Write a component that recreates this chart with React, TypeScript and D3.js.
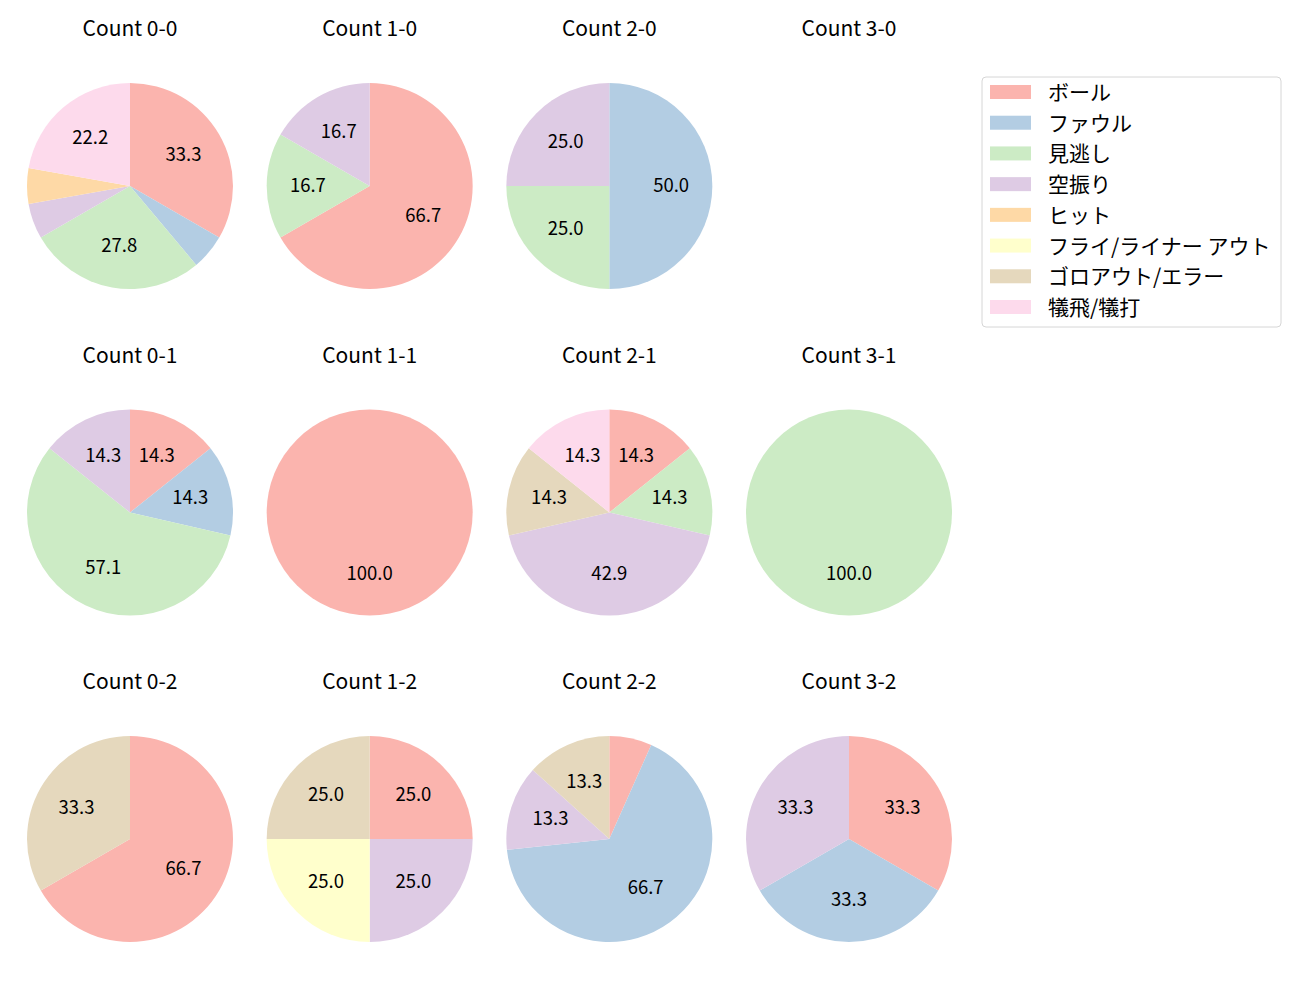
import React from "react";
import * as d3 from "d3";

const categories = ["ボール", "ファウル", "見逃し", "空振り", "ヒット", "フライ/ライナー アウト", "ゴロアウト/エラー", "犠飛/犠打"];
const colors = ["#fbb4ae", "#b3cde3", "#ccebc5", "#decbe4", "#fed9a6", "#ffffcc", "#e5d8bd", "#fddaec"];

const countTitles = [
  ["Count 0-0", "Count 1-0", "Count 2-0", "Count 3-0"],
  ["Count 0-1", "Count 1-1", "Count 2-1", "Count 3-1"],
  ["Count 0-2", "Count 1-2", "Count 2-2", "Count 3-2"],
];

const c00 = [6, 1, 5, 1, 1, 0, 0, 4];
const c10 = [4, 0, 1, 1, 0, 0, 0, 0];
const c20 = [0, 2, 1, 1, 0, 0, 0, 0];
const c30 = [0, 0, 0, 0, 0, 0, 0, 0];
const c01 = [1, 1, 4, 1, 0, 0, 0, 0];
const c11 = [1, 0, 0, 0, 0, 0, 0, 0];
const c21 = [1, 0, 1, 3, 0, 0, 1, 1];
const c31 = [0, 0, 1, 0, 0, 0, 0, 0];
const c02 = [2, 0, 0, 0, 0, 0, 1, 0];
const c12 = [1, 0, 0, 1, 0, 1, 1, 0];
const c22 = [1, 10, 0, 2, 0, 0, 2, 0];
const c32 = [1, 1, 0, 1, 0, 0, 0, 0];

const grid = [
  [c00, c10, c20, c30],
  [c01, c11, c21, c31],
  [c02, c12, c22, c32],
];

const FONT = "'Noto Sans CJK JP', 'Noto Sans', sans-serif";

const colX = d3.scaleLinear().domain([0, 3]).range([130, 849]);
const rowY = d3.scaleLinear().domain([0, 2]).range([186, 839]);
const R = 103;

function Pie({ values, cx, cy, title }: { values: number[]; cx: number; cy: number; title: string }) {
  const total = d3.sum(values);
  const items = values.map((v, i) => ({ v, i })).filter((d) => d.v > 0);
  const pie = d3.pie<{ v: number; i: number }>().value((d) => d.v).sort(null);
  const arcs = total > 0 ? pie(items) : [];
  const arc = d3.arc<d3.PieArcDatum<{ v: number; i: number }>>().innerRadius(0).outerRadius(R);
  const labelArc = d3.arc<d3.PieArcDatum<{ v: number; i: number }>>().innerRadius(R * 0.6).outerRadius(R * 0.6);
  return (
    <g>
      <text x={cx} y={cy - 159} textAnchor="middle" dominantBaseline="central" fontFamily={FONT} fontSize={21} fill="#000">
        {title}
      </text>
      <g transform={`translate(${cx},${cy})`}>
        {arcs.map((a) => (
          <path key={a.data.i} d={arc(a) || ""} fill={colors[a.data.i]} />
        ))}
        {arcs.map((a) => {
          const pct = (a.data.v / total) * 100;
          if (pct < 10) return null;
          const [lx, ly] = labelArc.centroid(a);
          return (
            <text key={"t" + a.data.i} x={lx} y={ly - 2.5} textAnchor="middle" dominantBaseline="central" fontFamily={FONT} fontSize={18.5} fill="#000">
              {pct.toFixed(1)}
            </text>
          );
        })}
      </g>
    </g>
  );
}

export default function App() {
  const legendX = 982;
  const legendY = 77;
  const rowStep = d3.scaleLinear().domain([0, 7]).range([92, 307]);
  return (
    <svg width={1300} height={1000} style={{ display: "block", position: "absolute", left: 0, top: 0 }}>
      <rect width={1300} height={1000} fill="#fff" />
      {grid.map((row, r) =>
        row.map((vals, c) => (
          <Pie key={`${r}-${c}`} values={vals} cx={colX(c)} cy={rowY(r)} title={countTitles[r][c]} />
        ))
      )}
      <rect x={legendX} y={legendY} width={299} height={250} rx={4} fill="#fff" stroke="#d6d6d6" strokeWidth={1} />
      {categories.map((cat, i) => (
        <g key={cat}>
          <rect x={990} y={rowStep(i) - 7} width={41} height={14} fill={colors[i]} />
          <text x={1048} y={rowStep(i) - 1} dominantBaseline="central" fontFamily={FONT} fontSize={21} fill="#000">
            {cat}
          </text>
        </g>
      ))}
    </svg>
  );
}
